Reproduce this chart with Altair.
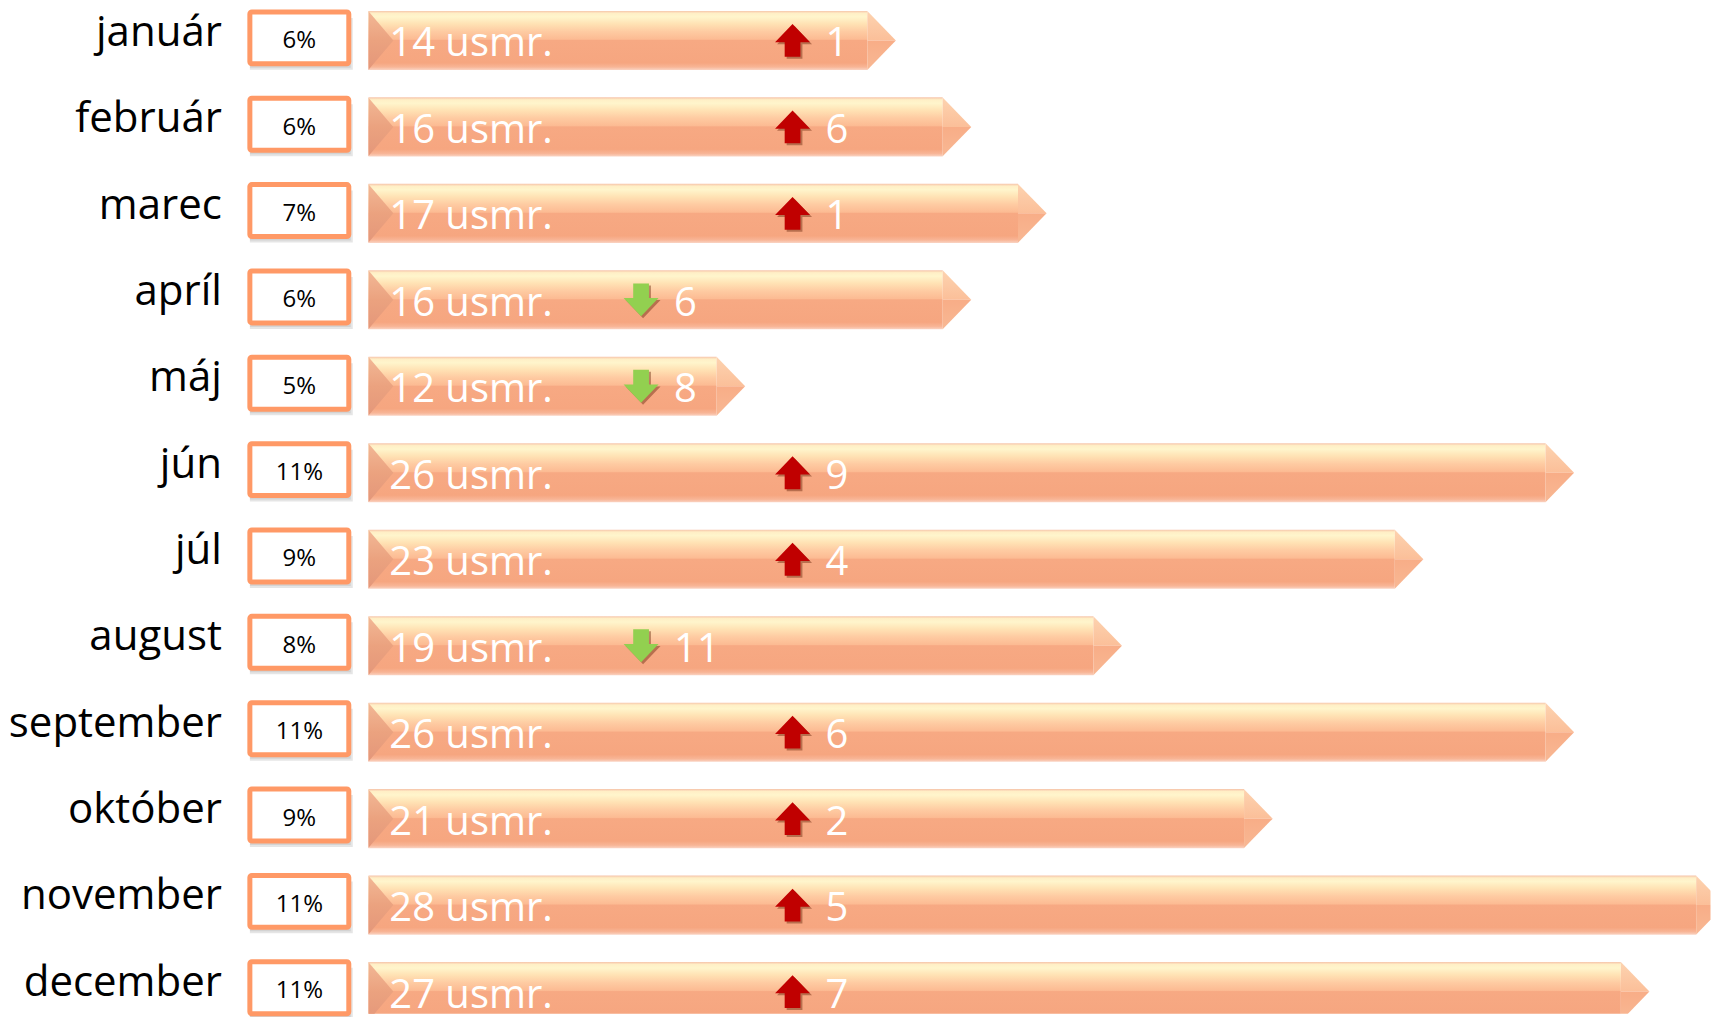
import altair as alt
import pandas as pd

# ---------------- data ----------------
months = ["január", "február", "marec", "apríl", "máj", "jún", "júl",
          "august", "september", "október", "november", "december"]
counts = [14, 16, 17, 16, 12, 26, 23, 19, 26, 21, 28, 27]          # "usmr."
shares = [6, 6, 7, 6, 5, 11, 9, 8, 11, 9, 11, 11]                 # % in the boxes
change = [1, 6, 1, 6, 8, 9, 4, 11, 6, 2, 5, 7]
direction = ["up", "up", "up", "down", "down", "up", "up", "down",
             "up", "up", "up", "up"]
bar_len = [7, 8, 9, 8, 5, 16, 14, 10, 16, 12, 18, 17]             # drawn bar length (steps)

df = pd.DataFrame({
    "month": months, "count": counts, "share": shares,
    "change": change, "dir": direction, "len": bar_len,
})

FONT = "Open Sans"
PX_PER_STEP = 75.4
TIP_PX = 28.5
B_WIDTH = 1343
B_HEIGHT = 1006

def grad(stops):
    return alt.Gradient(gradient="linear", x1=0, y1=0, x2=0, y2=1,
                        stops=[alt.GradientStop(offset=o, color=c) for o, c in stops])

body_grad = grad([(0.0, "#F6C4AA"), (0.04, "#FFEFC6"), (0.10, "#FFF5CC"),
                  (0.22, "#FFE2B4"), (0.35, "#FECBA2"), (0.48, "#FCBB93"),
                  (0.50, "#F7A983"), (0.88, "#F6A680"), (0.95, "#F8B596"),
                  (1.0, "#FAD3C2")])
bevel_grad = grad([(0.0, "#F2B896"), (0.5, "#EBA27F"), (1.0, "#E4977A")])
tip_top_grad = grad([(0.0, "#FDD3B0"), (1.0, "#FBBF99")])
tip_bot_grad = grad([(0.0, "#F8AD87"), (1.0, "#F8B894")])

# ---------------- panel A: month labels + percentage boxes ----------------
yA = alt.Y("month:N", sort=months, title=None,
           scale=alt.Scale(domain=months, range=[0, 1009.6],
                           paddingInner=0.398, paddingOuter=0.0416),
           axis=alt.Axis(labelFont=FONT, labelFontSize=42, labelColor="black",
                         ticks=False, domain=False, labelPadding=28.5,
                         minExtent=241.5, maxExtent=241.5, labelLimit=0,
                         labelBaseline="alphabetic", labelOffset=8))

baseA = alt.Chart(df).encode(y=yA)
shadow1 = baseA.mark_rect(fill="#000000", opacity=0.10, xOffset=4, x2Offset=4,
                          yOffset=6, y2Offset=6)
shadow2 = baseA.mark_rect(fill="#000000", opacity=0.08, xOffset=2, x2Offset=2,
                          yOffset=4, y2Offset=4)
box = baseA.mark_rect(fill="white", stroke="#FF9966", strokeWidth=5,
                      cornerRadius=2)
box_text = baseA.mark_text(font=FONT, fontSize=24, color="black",
                           baseline="alphabetic", dy=10.5).encode(
    text=alt.Text("label:N")).transform_calculate(label="datum.share + '%'")

panelA = alt.layer(shadow1, shadow2, box, box_text).properties(
    width=99, height=B_HEIGHT)

# ---------------- panel B: arrow bars ----------------
yB = alt.Y("month:N", sort=months, title=None, axis=None,
           scale=alt.Scale(domain=months, range=[0, 1016],
                           paddingInner=0.317, paddingOuter=0.03))
xscale = alt.Scale(domain=[0, B_WIDTH / PX_PER_STEP], nice=False, zero=True)

baseB = alt.Chart(df).transform_calculate(
    zero="0",
    body_end=f"datum.len - {TIP_PX / PX_PER_STEP}",
    arrow_x="datum.dir == 'up' ? 5.63 : 3.62",
    label="datum.count + ' usmr.'",
).encode(y=yB)

body = baseB.mark_rect(fill=body_grad, clip=True).encode(
    x=alt.X("zero:Q", scale=xscale, axis=None), x2="body_end:Q")

bevel = baseB.mark_point(shape="M0,-1L0.85,0L0,1Z", size=59 * 59, filled=True,
                         fill=bevel_grad, opacity=1, strokeWidth=0, clip=True).encode(
    x=alt.X("zero:Q", scale=xscale, axis=None))
tip_top = baseB.mark_point(shape="M0,-1L0.97,0L0,0Z", size=59 * 59, filled=True,
                           fill=tip_top_grad, opacity=1, strokeWidth=0, clip=True).encode(
    x=alt.X("body_end:Q", scale=xscale, axis=None))
tip_bot = baseB.mark_point(shape="M0,0L0.97,0L0,1Z", size=59 * 59, filled=True,
                           fill=tip_bot_grad, opacity=1, strokeWidth=0, clip=True).encode(
    x=alt.X("body_end:Q", scale=xscale, axis=None))

bar_text = baseB.mark_text(font=FONT, fontSize=40, color="white", align="left",
                           baseline="alphabetic", dx=21, dy=16, clip=True).encode(
    x=alt.X("zero:Q", scale=xscale, axis=None), text="label:N")

UP = "M0,-0.94L1,0.1L0.45,0.1L0.45,0.94L-0.45,0.94L-0.45,0.1L-1,0.1Z"
DOWN = "M0,0.94L1,-0.1L0.45,-0.1L0.45,-0.94L-0.45,-0.94L-0.45,-0.1L-1,-0.1Z"
shape_scale = alt.Scale(domain=["up", "down"], range=[UP, DOWN])

arrow_shadow = baseB.mark_point(size=35 * 35, filled=True, opacity=0.45,
                                strokeWidth=0, color="#6B2A10",
                                xOffset=2, yOffset=2, clip=True).encode(
    x=alt.X("arrow_x:Q", scale=xscale, axis=None),
    shape=alt.Shape("dir:N", scale=shape_scale, legend=None))
arrow = baseB.mark_point(size=35 * 35, filled=True, opacity=1, strokeWidth=0,
                         clip=True).encode(
    x=alt.X("arrow_x:Q", scale=xscale, axis=None),
    shape=alt.Shape("dir:N", scale=shape_scale, legend=None),
    color=alt.Color("dir:N", scale=alt.Scale(domain=["up", "down"],
                                             range=["#C00000", "#92D050"]),
                    legend=None))
change_text = baseB.mark_text(font=FONT, fontSize=40, color="white", align="left",
                              baseline="alphabetic", dx=33, dy=16, clip=True).encode(
    x=alt.X("arrow_x:Q", scale=xscale, axis=None), text="change:Q")

panelB = alt.layer(body, bevel, tip_top, tip_bot, bar_text,
                   arrow_shadow, arrow, change_text).properties(
    width=B_WIDTH, height=B_HEIGHT)

chart = alt.hconcat(panelA, panelB, spacing=15.5).properties(
    padding=0).configure_view(stroke=None)

chart.save("out.html", embed_options={"renderer": "svg", "actions": False})
